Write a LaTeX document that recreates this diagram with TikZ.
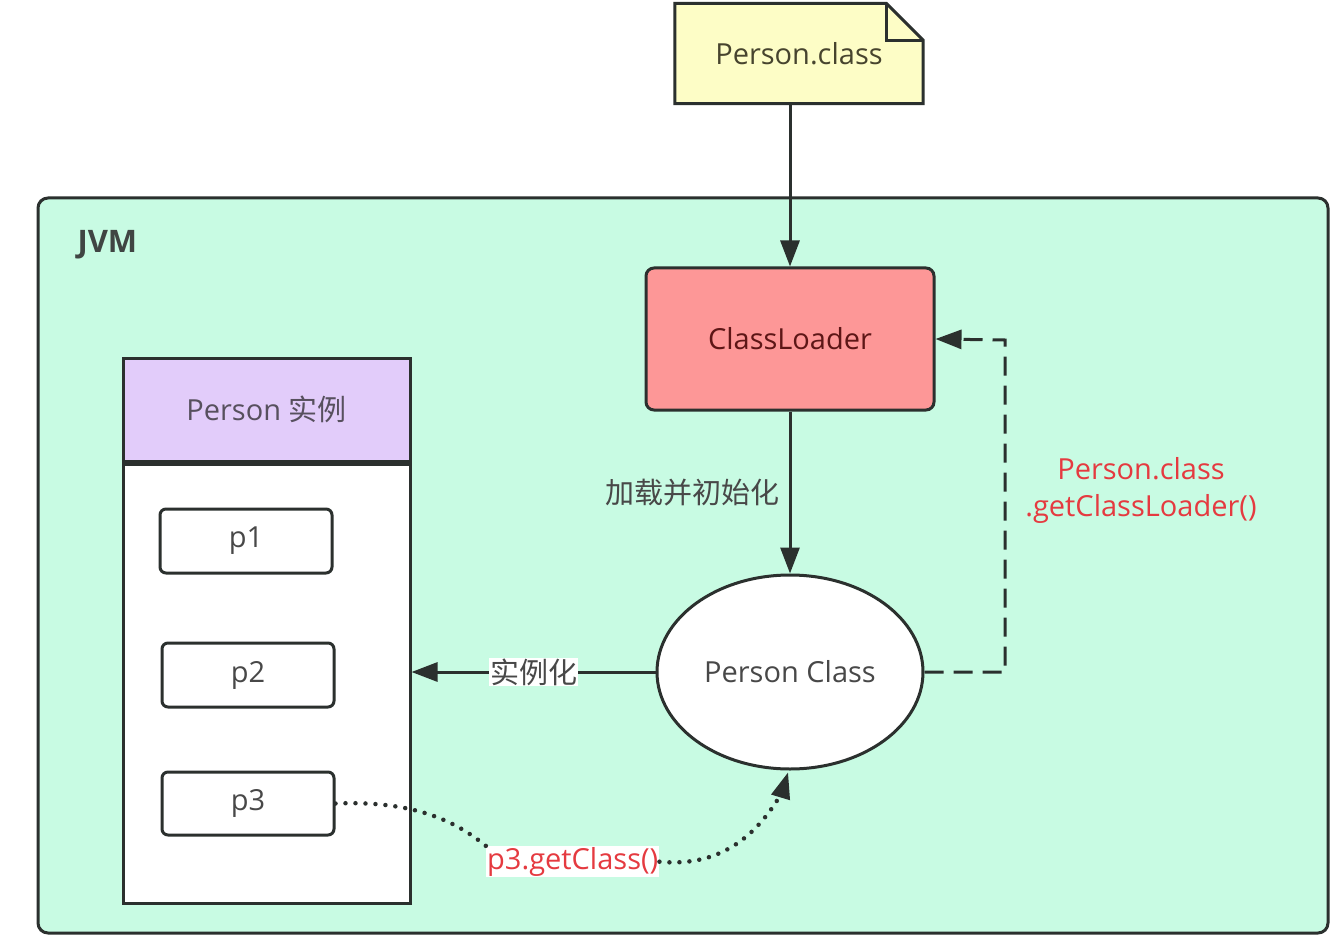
\documentclass[tikz,border=0pt]{standalone}
\usepackage{fontspec}
\setmainfont{Open Sans}
\newfontfamily\cjk{Noto Sans CJK SC}
\usetikzlibrary{arrows.meta,shapes.geometric,calc}
\definecolor{jvmfill}{HTML}{C8FBE3}
\definecolor{notefill}{HTML}{FDFDC6}
\definecolor{clfill}{HTML}{FD9797}
\definecolor{lav}{HTML}{E2CCFA}
\definecolor{linec}{HTML}{2B302E}
\definecolor{txt}{HTML}{484848}
\definecolor{redt}{HTML}{E53A40}
\tikzset{
  every node/.style={font=\fontsize{29}{34}\selectfont, text=txt},
  boxln/.style={draw=linec, line width=3pt},
  conn/.style={draw=linec, line width=3pt, -{Triangle[length=26pt,width=19pt]}},
  dotln/.style={draw=linec, line width=4.5pt, line cap=round, dash pattern=on 0pt off 10pt},
  pbox/.style={boxln, fill=white, rounded corners=6pt, minimum width=172pt, minimum height=64pt, inner sep=0pt},
  lbl/.style={inner sep=1pt},
}
\begin{document}
\begin{tikzpicture}[x=1pt,y=-1pt]
\useasboundingbox (0,0) rectangle (1342,944);
\fill[white] (0,0) rectangle (1342,944);
% JVM container
\node[boxln, fill=jvmfill, rounded corners=10pt, minimum width=1290pt, minimum height=735pt, inner sep=0pt] (jvm) at (683,565.5) {};
\node[anchor=west, font=\fontsize{31}{36}\selectfont\bfseries, text=linec!90] (jvml) at (74,245) {JVM};
% note
\coordinate (notec) at (799,53.5);
\node[minimum width=248pt, minimum height=100pt, inner sep=0pt] (note) at (notec) {};
\fill[notefill] (note.north west) -- ($(note.north east)+(-37,0)$) -- ($(note.north east)+(0,37)$) -- (note.south east) -- (note.south west) -- cycle;
\draw[boxln, line join=miter] (note.north west) -- ($(note.north east)+(-37,0)$) -- ($(note.north east)+(0,37)$) -- (note.south east) -- (note.south west) -- cycle;
\draw[boxln, line join=miter] ($(note.north east)+(-37,0)$) -- ($(note.north east)+(-37,37)$) -- ($(note.north east)+(0,37)$);
\node[text=black!65!olive] (notet) at (notec) {Person.class};
% ClassLoader
\node[boxln, fill=clfill, rounded corners=8pt, minimum width=288pt, minimum height=142pt, text=black!60!red!70!txt] (cl) at (790,339) {ClassLoader};
% Person Class ellipse
\node[boxln, ellipse, fill=white, minimum width=266pt, minimum height=194pt, inner sep=0pt] (pc) at (790,672) {Person Class};
% Person instances container
\node[boxln, fill=lav, minimum width=287pt, minimum height=103pt, inner sep=0pt, text=black!60!lav!80!txt] (hdr) at (266.5,409.5) {Person {\cjk 实例}};
\node[boxln, fill=white, minimum width=287pt, minimum height=439pt, inner sep=0pt, anchor=north] (body) at (hdr.south) {};
\node[pbox] (p1) at (246,541) {p1};
\node[pbox] (p2) at (248,675) {p2};
\node[pbox, minimum height=63pt] (p3) at (248,803.5) {p3};
% connectors
\draw[conn] (cl.north |- note.south) -- (cl.north);
\draw[conn] (cl.south) -- node[left, lbl, xshift=-8pt]{\cjk 加载并初始化} (pc.north);
\draw[conn] (pc.west) -- node[lbl, fill=white]{\cjk 实例化} (body.east |- pc.west);
\coordinate (dc) at (1005,340);
\draw[conn, dash pattern=on 19pt off 10pt] (pc.east) -| (dc) -- (cl.east);
\node[align=center, text=redt, font=\fontsize{29}{37}\selectfont] (gl) at (1141,490) {Person.class\\.getClassLoader()};
\node[lbl, fill=white, text=redt, anchor=north west] (gc) at (486,846) {p3.getClass()};
\draw[dotln] (p3.east) .. controls (420,800) and (460,825) .. (gc.north west);
\draw[dotln] (gc.east) .. controls (725,868) and (760,830) .. ($(pc.south)+(-8,22)$) coordinate (tipst);
\draw[draw=linec, line width=3pt, -{Triangle[length=26pt,width=19pt]}] (tipst) -- ($(pc.south)+(-2,2)$);
\end{tikzpicture}
\end{document}
